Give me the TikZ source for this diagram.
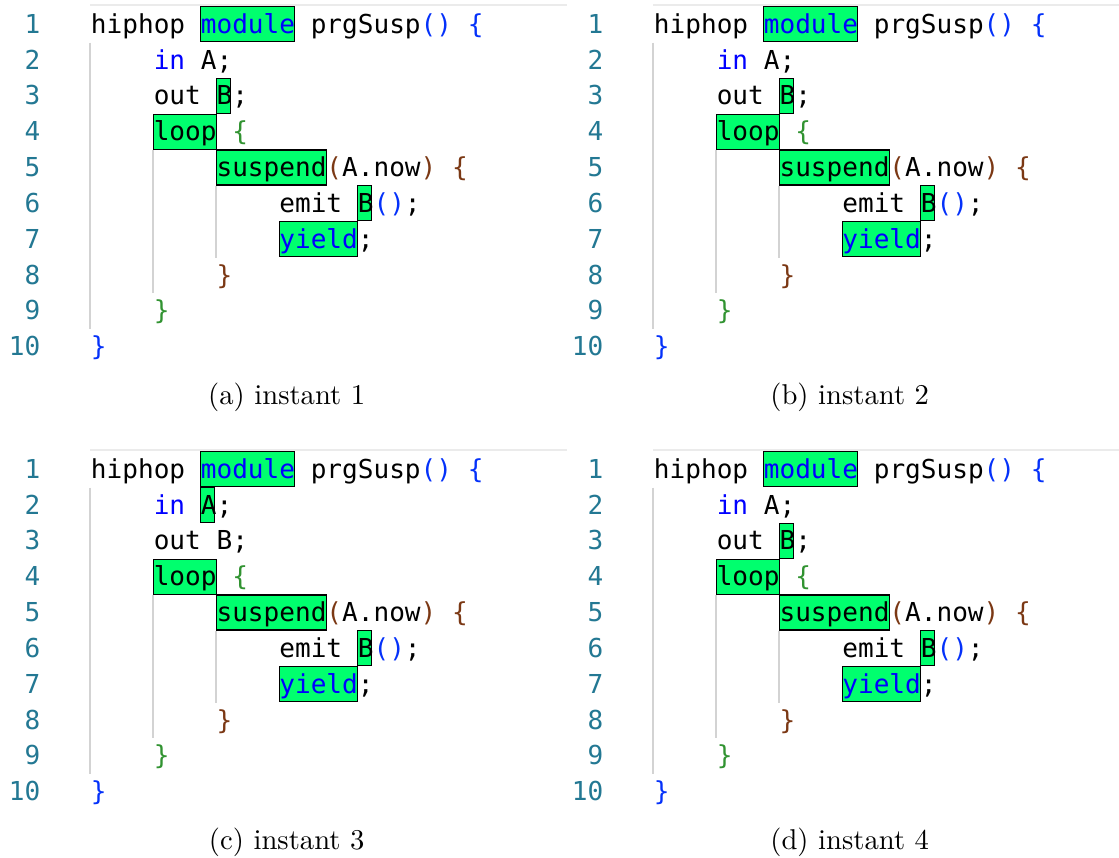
\documentclass[tikz,border=0pt]{standalone}
\usepackage{fontspec}
\newfontfamily\codefont{DejaVu Sans Mono}
\newfontfamily\capfont[Extension=.otf]{lmroman10-regular}
\definecolor{lnum}{HTML}{237893}
\definecolor{kwblue}{HTML}{0000FF}
\definecolor{brlA}{HTML}{0431FA}
\definecolor{brlB}{HTML}{319331}
\definecolor{brlC}{HTML}{7B3814}
\definecolor{guidegray}{HTML}{D3D3D3}
\definecolor{topgray}{HTML}{EBEBEB}
\definecolor{hlfill}{HTML}{00FF6E}
\newcommand\Kw[1]{\textcolor{kwblue}{#1}}
\newcommand\BrA[1]{\textcolor{brlA}{#1}}
\newcommand\BrB[1]{\textcolor{brlB}{#1}}
\newcommand\BrC[1]{\textcolor{brlC}{#1}}
\tikzset{
  codetxt/.style={inner sep=0pt, anchor=base west, font=\codefont\fontsize{19.56}{23}\selectfont\frenchspacing},
  lnumtxt/.style={inner sep=0pt, anchor=base east, text=lnum, font=\codefont\fontsize{19.56}{23}\selectfont},
  captxt/.style={inner sep=0pt, anchor=base, font=\capfont\fontsize{21.5}{26}\selectfont},
  hlbox/.style={fill=hlfill, draw=black, line width=0.8pt},
  guideln/.style={draw=guidegray, line width=1.1pt},
  topln/.style={draw=topgray, line width=1.4pt},
}
% #1 prefix, #2 dx, #3 dy, #4 caption, #5 variant (1: out B lit, 2: in A lit), #6 top rule end
\newcommand\codepanel[6]{%
\begin{scope}[shift={(#2,#3)}]
  \draw[topln] (90,5) -- (#6,5);
  % indent guides
  \draw[guideln] (90,42.5) -- (90,329.2);
  \draw[guideln] (153,150) -- (153,293.4);
  \draw[guideln] (215.8,185.8) -- (215.8,257.5);
  % highlight boxes
  \filldraw[hlbox] (200.6,6.7) rectangle ++(93.5,35);
  \ifnum#5=1
    \filldraw[hlbox] (216.3,78.4) rectangle ++(14,35);
  \else
    \filldraw[hlbox] (200.6,42.5) rectangle ++(14,35);
  \fi
  \filldraw[hlbox] (153.5,114.2) rectangle ++(62.8,35);
  \filldraw[hlbox] (216.3,150.0) rectangle ++(109.9,35);
  \filldraw[hlbox] (357.6,185.8) rectangle ++(14,35);
  \filldraw[hlbox] (279.1,221.7) rectangle ++(78,35);
  % line numbers
  \node[lnumtxt] (#1-n1) at (40.5,33.3) {1};
  \node[lnumtxt] (#1-n2) at (40.5,69.13) {2};
  \node[lnumtxt] (#1-n3) at (40.5,104.96) {3};
  \node[lnumtxt] (#1-n4) at (40.5,140.79) {4};
  \node[lnumtxt] (#1-n5) at (40.5,176.62) {5};
  \node[lnumtxt] (#1-n6) at (40.5,212.45) {6};
  \node[lnumtxt] (#1-n7) at (40.5,248.28) {7};
  \node[lnumtxt] (#1-n8) at (40.5,284.11) {8};
  \node[lnumtxt] (#1-n9) at (40.5,319.94) {9};
  \node[lnumtxt] (#1-n10) at (40.5,355.77) {10};
  % code lines
  \node[codetxt] (#1-l1) at (90.7,33.3) {hiphop \Kw{module} prgSusp\BrA{()} \BrA{\{}};
  \node[codetxt] (#1-l2) at (153.5,69.13) {\Kw{in} A;};
  \node[codetxt] (#1-l3) at (153.5,104.96) {out B;};
  \node[codetxt] (#1-l4) at (153.5,140.79) {loop \BrB{\{}};
  \node[codetxt] (#1-l5) at (216.3,176.62) {suspend\BrC{(}A.now\BrC{)} \BrC{\{}};
  \node[codetxt] (#1-l6) at (279.1,212.45) {emit B\BrA{()};};
  \node[codetxt] (#1-l7) at (279.1,248.28) {\Kw{yield};};
  \node[codetxt] (#1-l8) at (216.3,284.11) {\BrC{\}}};
  \node[codetxt] (#1-l9) at (153.5,319.94) {\BrB{\}}};
  \node[codetxt] (#1-l10) at (90.7,355.77) {\BrA{\}}};
  % caption
  \node[captxt] (#1-cap) at (286.7,404) {#4};
\end{scope}}
\begin{document}
\begin{tikzpicture}[x=0.75pt,y=-0.75pt]
  \useasboundingbox[fill=white] (0,0) rectangle (1119,857);
  \codepanel{pa}{0}{0}{(a) instant 1}{1}{567}
  \codepanel{pb}{563}{0}{(b) instant 2}{1}{556}
  \codepanel{pc}{0}{445}{(c) instant 3}{2}{567}
  \codepanel{pd}{563}{445}{(d) instant 4}{1}{556}
\end{tikzpicture}
\end{document}
